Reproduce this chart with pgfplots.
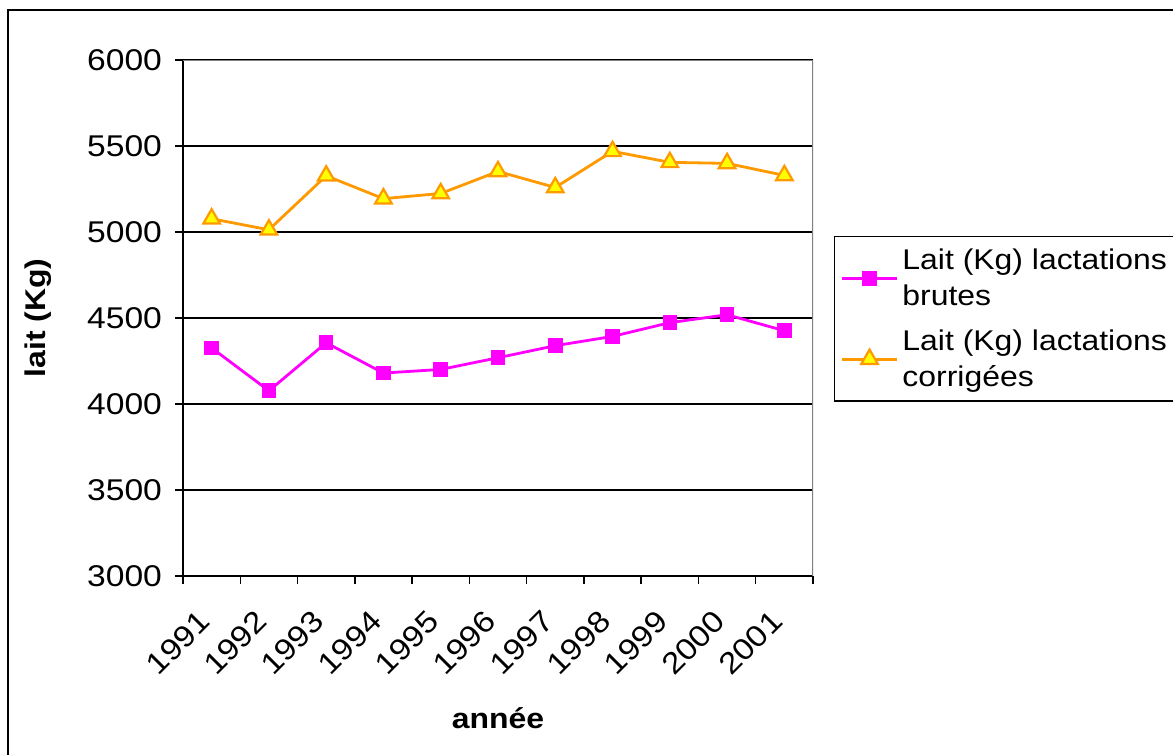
\documentclass[border=0pt]{standalone}
\usepackage{fontspec}
\setmainfont[FakeStretch=1.12]{Liberation Sans}
\usepackage{pgfplots}
\pgfplotsset{compat=1.18}
\definecolor{pinkM}{HTML}{FF00FF}
\definecolor{orangeL}{HTML}{FF9900}
\definecolor{yellowM}{HTML}{FFFF00}
\newcommand\fs{\fontsize{14.25}{18}\selectfont}
\newcommand\fx{\fontsize{15}{18}\selectfont}
\begin{document}
\begin{tikzpicture}
\begin{scope}
\clip (-91.5pt,-89.5pt) rectangle (495pt,288pt);
\draw[line width=1pt] (-87.5pt,283pt) rectangle (700pt,-200pt);
\begin{axis}[
  scale only axis, width=315pt, height=258pt,
  at={(0,0)}, anchor=south west,
  xmin=-0.5, xmax=10.5, ymin=3000, ymax=6000,
  axis x line*=bottom, axis y line*=left,
  axis line style={black, line width=0.9pt},
  xtick={0,...,10},
  xticklabels={1991,1992,1993,1994,1995,1996,1997,1998,1999,2000,2001},
  minor xtick={-0.5,0.5,...,10.5},
  ytick={3000,3500,...,6000},
  tick align=outside,
  major tick length=4pt, minor tick length=4pt,
  tick style={black, line width=0.7pt},
  major x tick style={draw=none},
  ymajorgrids, major grid style={black, line width=0.6pt},
  yticklabel style={font=\fx},
  xticklabel style={font=\fx},
  /pgf/number format/1000 sep={},
  /pgf/number format/assume math mode=true,
  xticklabel style={xshift=-3.5pt, yshift=-16pt, rotate=45, anchor=east, inner sep=0pt},
  yticklabel style={anchor=east, xshift=-3pt},
  xlabel={\textbf{année}},
  ylabel={\textbf{lait (Kg)}},
  label style={font=\fs},
  xlabel style={at={(axis description cs:0.5,0)}, anchor=center, yshift=-71pt},
  ylabel style={at={(axis description cs:-0.2302,0.5)}, anchor=center},
  legend style={at={(axis description cs:1.0333,0.6589)}, anchor=north west,
    draw=black, line width=0.7pt, font=\fs, nodes={align=left}, row sep=6.5pt,
    inner ysep=4pt,
    legend image code/.code={\draw[mark repeat=2,mark phase=2,#1] plot coordinates {(0pt,0pt) (13.75pt,0pt) (27.5pt,0pt)};}},
  legend cell align=left,
]
\addplot[pinkM, line width=1.4pt, mark=square*, mark size=3.4pt, mark options={fill=pinkM, draw=pinkM, line width=0.5pt}]
 coordinates {(0,4326) (1,4077) (2,4356) (3,4180) (4,4201) (5,4269) (6,4339) (7,4393) (8,4473) (9,4519) (10,4426)};
\addlegendentry{Lait (Kg) lactations\\brutes}
\addplot[orangeL, line width=1.4pt, mark=triangle*, mark size=4.8pt, mark options={fill=yellowM, draw=orangeL, line width=1.1pt}]
 coordinates {(0,5077) (1,5013) (2,5327) (3,5194) (4,5224) (5,5352) (6,5259) (7,5469) (8,5405) (9,5399) (10,5329)};
\addlegendentry{Lait (Kg) lactations\\corrigées}
\draw[gray, line width=0.9pt] (rel axis cs:0,1) -- (rel axis cs:1,1) -- (rel axis cs:1,0);
\end{axis}
\end{scope}
\pgfresetboundingbox
\useasboundingbox (-91.5pt,-89.5pt) rectangle (495pt,288pt);
\end{tikzpicture}
\end{document}
